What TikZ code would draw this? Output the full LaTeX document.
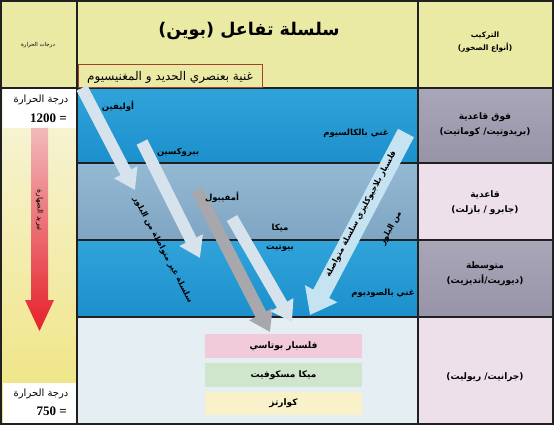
\documentclass[tikz,border=0pt]{standalone}
\usepackage{fontspec}
\setmainfont{Liberation Serif}
\newfontfamily\arabicfont[Script=Arabic]{DejaVu Sans}
\TeXXeTstate=1
\usetikzlibrary{arrows.meta}
\definecolor{hdr}{HTML}{EAEAA5}
\definecolor{ytop}{HTML}{F7F5DC}
\definecolor{ybot}{HTML}{EFE37E}
\definecolor{blueT}{HTML}{31A3DB}
\definecolor{blueB}{HTML}{1C90CC}
\definecolor{greyT}{HTML}{94B9D3}
\definecolor{greyB}{HTML}{7EA5C3}
\definecolor{rowfour}{HTML}{E5EFF3}
\definecolor{purT}{HTML}{A9A6B8}
\definecolor{purB}{HTML}{9794A8}
\definecolor{pinkcell}{HTML}{EEE0EA}
\definecolor{arrlight}{HTML}{D6E2EC}
\definecolor{arrgrey}{HTML}{A8A8AC}
\definecolor{arrblue}{HTML}{C6E3F1}
\definecolor{boxpink}{HTML}{F2CBDA}
\definecolor{boxgreen}{HTML}{CFE6CD}
\definecolor{boxyellow}{HTML}{F8F1C9}
\definecolor{redT}{HTML}{F2BABA}
\definecolor{redB}{HTML}{E5202B}
\definecolor{redbox}{HTML}{A0422E}
\definecolor{gridc}{HTML}{202020}
\begin{document}
\begin{tikzpicture}[x=1pt,y=-1pt,
  grid/.style={draw=gridc,line width=1.8pt},
  ar/.style={font=\arabicfont\bfseries\fontsize{8.5}{10}\selectfont,text=black,inner sep=1pt},
  arcell/.style={font=\arabicfont\bfseries\fontsize{9}{15}\selectfont,text=black,align=center},
  fat/.style={line width=12pt,-{Triangle[width=25pt,length=20pt]}},
  fatwide/.style={line width=18pt,-{Triangle[width=35pt,length=24pt]}},
  numtxt/.style={font=\bfseries\fontsize{13}{15}\selectfont,inner sep=0pt},
  alongtxt/.style={font=\arabicfont\bfseries\fontsize{8}{9}\selectfont,inner sep=0pt},
  boxlbl/.style={font=\arabicfont\bfseries\fontsize{9}{10}\selectfont,minimum width=157pt,minimum height=24pt,inner sep=0pt}
]
\useasboundingbox (0,0) rectangle (554,425);
% backgrounds
\fill[hdr] (0,0) rectangle (554,88);
\shade[top color=ytop,bottom color=ybot] (0,88) rectangle (77,425);
\fill[white] (3,89) rectangle (77,128);
\fill[white] (3,383) rectangle (77,423);
\shade[top color=blueT,bottom color=blueB] (77,88) rectangle (418,163);
\shade[top color=greyT,bottom color=greyB] (77,163) rectangle (418,240);
\shade[top color=blueT,bottom color=blueB] (77,240) rectangle (418,317);
\fill[rowfour] (77,317) rectangle (418,425);
\shade[top color=purT,bottom color=purB] (418,88) rectangle (554,163);
\fill[pinkcell] (418,163) rectangle (554,240);
\shade[top color=purT,bottom color=purB] (418,240) rectangle (554,317);
\fill[pinkcell] (418,317) rectangle (554,425);
% grid
\draw[grid] (1,1) rectangle (553,424);
\draw[grid] (77,0) -- (77,425);
\draw[grid] (418,0) -- (418,425);
\draw[grid] (0,88) -- (554,88);
\draw[grid] (77,163) -- (554,163);
\draw[grid] (77,240) -- (554,240);
\draw[grid] (77,317) -- (554,317);
% header
\node[font=\arabicfont\fontsize{5.5}{7}\selectfont] (hleft) at (38,45) {\beginR درجات الحرارة\endR};
\node[font=\arabicfont\bfseries\fontsize{17.5}{22}\selectfont] (title) at (249,31) {\beginR سلسلة تفاعل (بوين)\endR};
\node[draw=redbox,line width=1pt,minimum width=184pt,minimum height=23pt,inner sep=0pt] (fe) at (170,76) {};
\node[font=\arabicfont\fontsize{12}{14}\selectfont] (fetxt) at (170,77) {\beginR غنية بعنصري الحديد و المغنيسيوم\endR};
\node[font=\arabicfont\bfseries\fontsize{7.5}{13}\selectfont,align=center] (hright) at (485,42) {\beginR التركيب\endR\\\beginR (أنواع الصخور)\endR};
% left column
\node[font=\arabicfont\fontsize{10}{12}\selectfont] (t1a) at (41,100) {\beginR درجة الحرارة\endR};
\node[numtxt,anchor=east] (t1b) at (67,118) {1200 =};
\node[font=\arabicfont\fontsize{10}{12}\selectfont] (t2a) at (41,394) {\beginR درجة الحرارة\endR};
\node[numtxt,anchor=east] (t2b) at (67,411) {750 =};
\shade[top color=redT,bottom color=redB] (31,128) -- (48,128) -- (48,300) -- (54,300) -- (39.5,331) -- (25,300) -- (31,300) -- cycle;
\node[font=\arabicfont\fontsize{7.5}{8}\selectfont,rotate=-90] (cool) at (39.5,210) {\beginR تبريد الصهارة\endR};
% arrows
\coordinate (olA) at (82,88);
\coordinate (olB) at (135,190);
\coordinate (pxA) at (142,142);
\coordinate (pxB) at (200,258);
\coordinate (amA) at (197,190);
\coordinate (amB) at (270,332);
\coordinate (miA) at (232,218);
\coordinate (miB) at (292,322);
\coordinate (plA) at (406,133);
\coordinate (plB) at (310,315);
\draw[fat,draw=arrlight] (olA) -- (olB);
\draw[fat,draw=arrlight] (pxA) -- (pxB);
\draw[fat,draw=arrgrey] (amA) -- (amB);
\draw[fat,draw=arrlight] (miA) -- (miB);
\draw[fatwide,draw=arrblue] (plA) -- (plB);
% arrow texts
\node[alongtxt,rotate=-62] (disc) at (163,250) {\beginR سلسلة غير متواصلة من البلور\endR};
\node[alongtxt,rotate=62] (cont1) at (361,214) {\beginR فلسبار بلاجيوكليزي سلسلة متواصلة\endR};
\node[alongtxt,rotate=62] (cont2) at (391,228) {\beginR من البلور\endR};
% mineral labels
\node[ar] (ol) at (118,106) {\beginR أوليفين\endR};
\node[ar] (px) at (178,152) {\beginR بيروكسين\endR};
\node[ar] (am) at (222,197) {\beginR أمفيبول\endR};
\node[ar] (mi) at (280,228) {\beginR ميكا\endR};
\node[ar] (bi) at (280,248) {\beginR بيوتيت\endR};
\node[ar] (ca) at (356,133) {\beginR غني بالكالسيوم\endR};
\node[ar] (na) at (383,293) {\beginR غني بالصوديوم\endR};
% bottom boxes
\node[boxlbl,fill=boxpink] (kf) at (283.5,346) {\beginR فلسبار بوتاسي\endR};
\node[boxlbl,fill=boxgreen] (mu) at (283.5,375) {\beginR ميكا مسكوفيت\endR};
\node[boxlbl,fill=boxyellow,minimum height=23pt] (qz) at (283.5,403.5) {\beginR كوارتز\endR};
% right column
\node[arcell] (r1) at (485,125) {\beginR فوق قاعدية\endR\\\beginR (بريدوتيت/ كوماتيت)\endR};
\node[arcell] (r2) at (485,203) {\beginR قاعدية\endR\\\beginR (جابرو / بازلت)\endR};
\node[arcell] (r3) at (485,274) {\beginR متوسطة\endR\\\beginR (ديوريت/أنديزيت)\endR};
\node[arcell] (r4) at (485,377) {\beginR (جرانيت/ ريوليت)\endR};
\end{tikzpicture}
\end{document}
